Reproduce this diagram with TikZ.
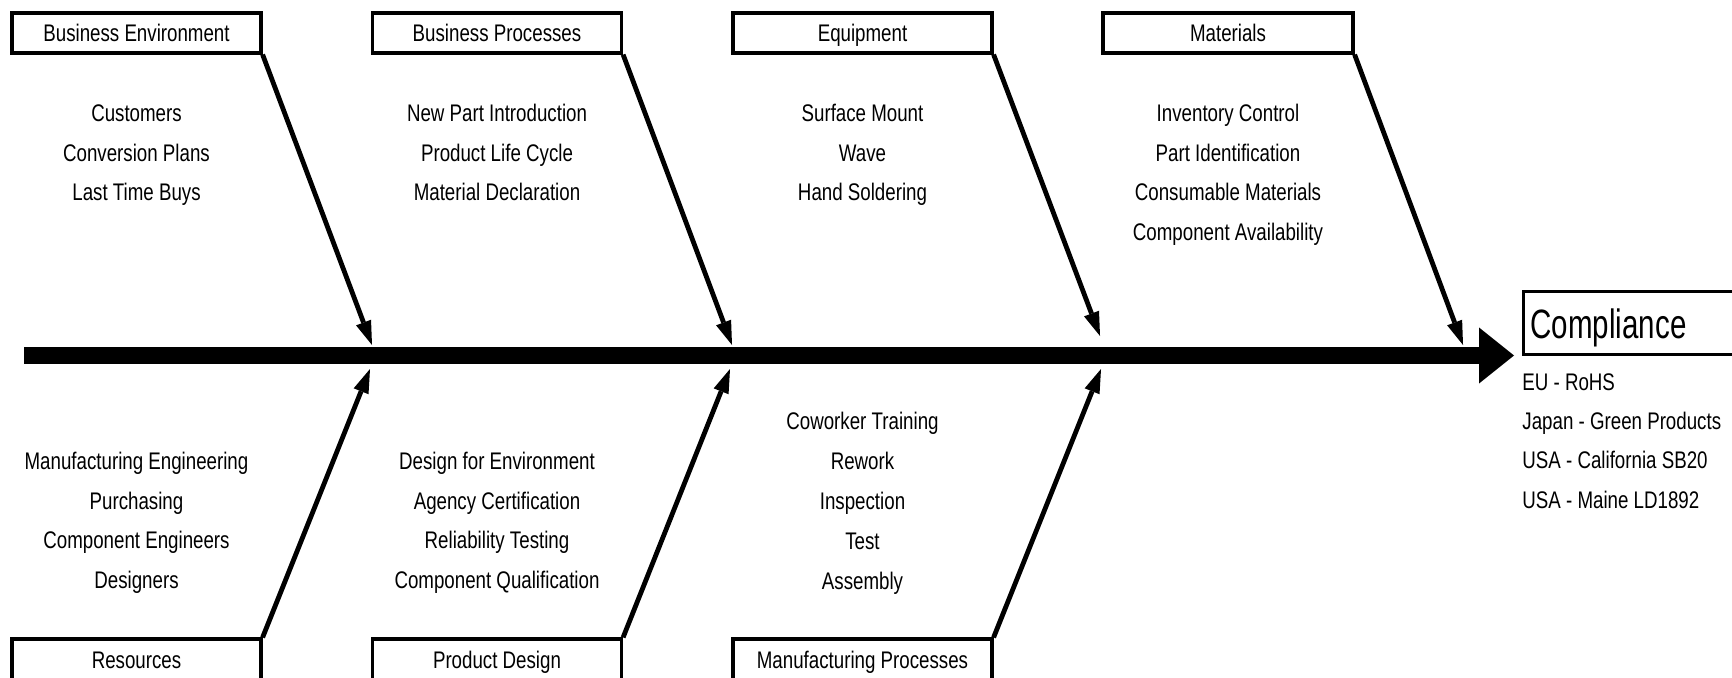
\documentclass[tikz,border=0pt]{standalone}
\usepackage{fontspec}
\setmainfont{Liberation Sans}[FakeStretch=0.78]
\newfontfamily\bigfont{Liberation Sans}[FakeStretch=0.72]
\usetikzlibrary{arrows.meta}

\begin{document}
\begin{tikzpicture}[
		x=0.5pt, y=-0.5pt,
		every node/.style={font=\fontsize{12}{14}\selectfont},
		catbox/.style={rectangle, draw, line width=1.6pt, minimum width=124.5pt,
			minimum height=20pt, inner sep=0pt, text height=8.6pt, text depth=0pt},
		item/.style={anchor=base, inner sep=0pt},
		bone/.style={line width=2.4pt, -{Triangle[length=12pt, width=8pt, line width=0pt]}}
	]
  \useasboundingbox (0,0) rectangle (1732,678);

  % category boxes, causes above the spine
  \node (env) [catbox] at (136.5, 33) {Business Environment};
  \node (proc) [catbox] at (497, 33) {Business Processes};
  \node (equip) [catbox, minimum width=129.5pt] at (862.5, 33) {Equipment};
  \node (mat) [catbox, minimum width=125pt] at (1228, 33) {Materials};
  % and below it
  \node (res) [catbox, minimum height=21pt] at (136.5, 660) {Resources};
  \node (design) [catbox, minimum height=21pt] at (497, 660) {Product Design};
  \node (mfg) [catbox, minimum height=21pt, minimum width=129.5pt] at (862.5, 660) {Manufacturing Processes};

  % spine
  \coordinate (tail) at (24, 355.5);
  \coordinate (head) at (1514, 355.5);
  \draw [line width=8.5pt, -{Triangle[length=17.5pt, width=28pt, line width=0pt]}] (tail) -- (head);

  \coordinate (env_t) at (372, 345);
  \coordinate (proc_t) at (732, 345);
  \coordinate (equip_t) at (1100, 336);
  \coordinate (mat_t) at (1463, 345);
  \coordinate (res_t) at (370, 369);
  \coordinate (design_t) at (730, 369);
  \coordinate (mfg_t) at (1101, 369);
  \draw [bone] (env.south east) -- (env_t);
  \draw [bone] (proc.south east) -- (proc_t);
  \draw [bone] (equip.south east) -- (equip_t);
  \draw [bone] (mat.south east) -- (mat_t);
  \draw [bone] (res.north east) -- (res_t);
  \draw [bone] (design.north east) -- (design_t);
  \draw [bone] (mfg.north east) -- (mfg_t);

  % causes
  \foreach \txt [count=\i] in {Customers, Conversion Plans, Last Time Buys}
    \node (env-\i) [item] at (136.5, {81.5+39.8*\i}) {\txt};
  \foreach \txt [count=\i] in {New Part Introduction, Product Life Cycle, Material Declaration}
    \node (proc-\i) [item] at (497, {81.5+39.8*\i}) {\txt};
  \foreach \txt [count=\i] in {Surface Mount, Wave, Hand Soldering}
    \node (equip-\i) [item] at (862.5, {81.5+39.8*\i}) {\txt};
  \foreach \txt [count=\i] in {Inventory Control, Part Identification, Consumable Materials, Component Availability}
    \node (mat-\i) [item] at (1228, {81.5+39.8*\i}) {\txt};
  \foreach \txt [count=\i] in {Manufacturing Engineering, Purchasing, Component Engineers, Designers}
    \node (res-\i) [item] at (136.5, {429.5+39.8*\i}) {\txt};
  \foreach \txt [count=\i] in {Design for Environment, Agency Certification, Reliability Testing, Component Qualification}
    \node (design-\i) [item] at (497, {429.5+39.8*\i}) {\txt};
  \foreach \txt [count=\i] in {Coworker Training, Rework, Inspection, Test, Assembly}
    \node (mfg-\i) [item] at (862.5, {390+39.8*\i}) {\txt};

  % effect
  \node (goal) [draw, line width=1.6pt, anchor=north west, minimum height=31.5pt,
    text width=113pt, align=left, inner xsep=3.5pt, inner ysep=0pt,
    text height=15.5pt, text depth=0pt, font=\bigfont\fontsize{20.5}{22}\selectfont] at (1522, 290) {Compliance};
  \foreach \txt [count=\i] in {EU - RoHS, Japan - Green Products, USA - California SB20, USA - Maine LD1892}
    \node (law-\i) [item, anchor=base west] at (1522, {351+39.3*\i}) {\txt};
\end{tikzpicture}
\end{document}
